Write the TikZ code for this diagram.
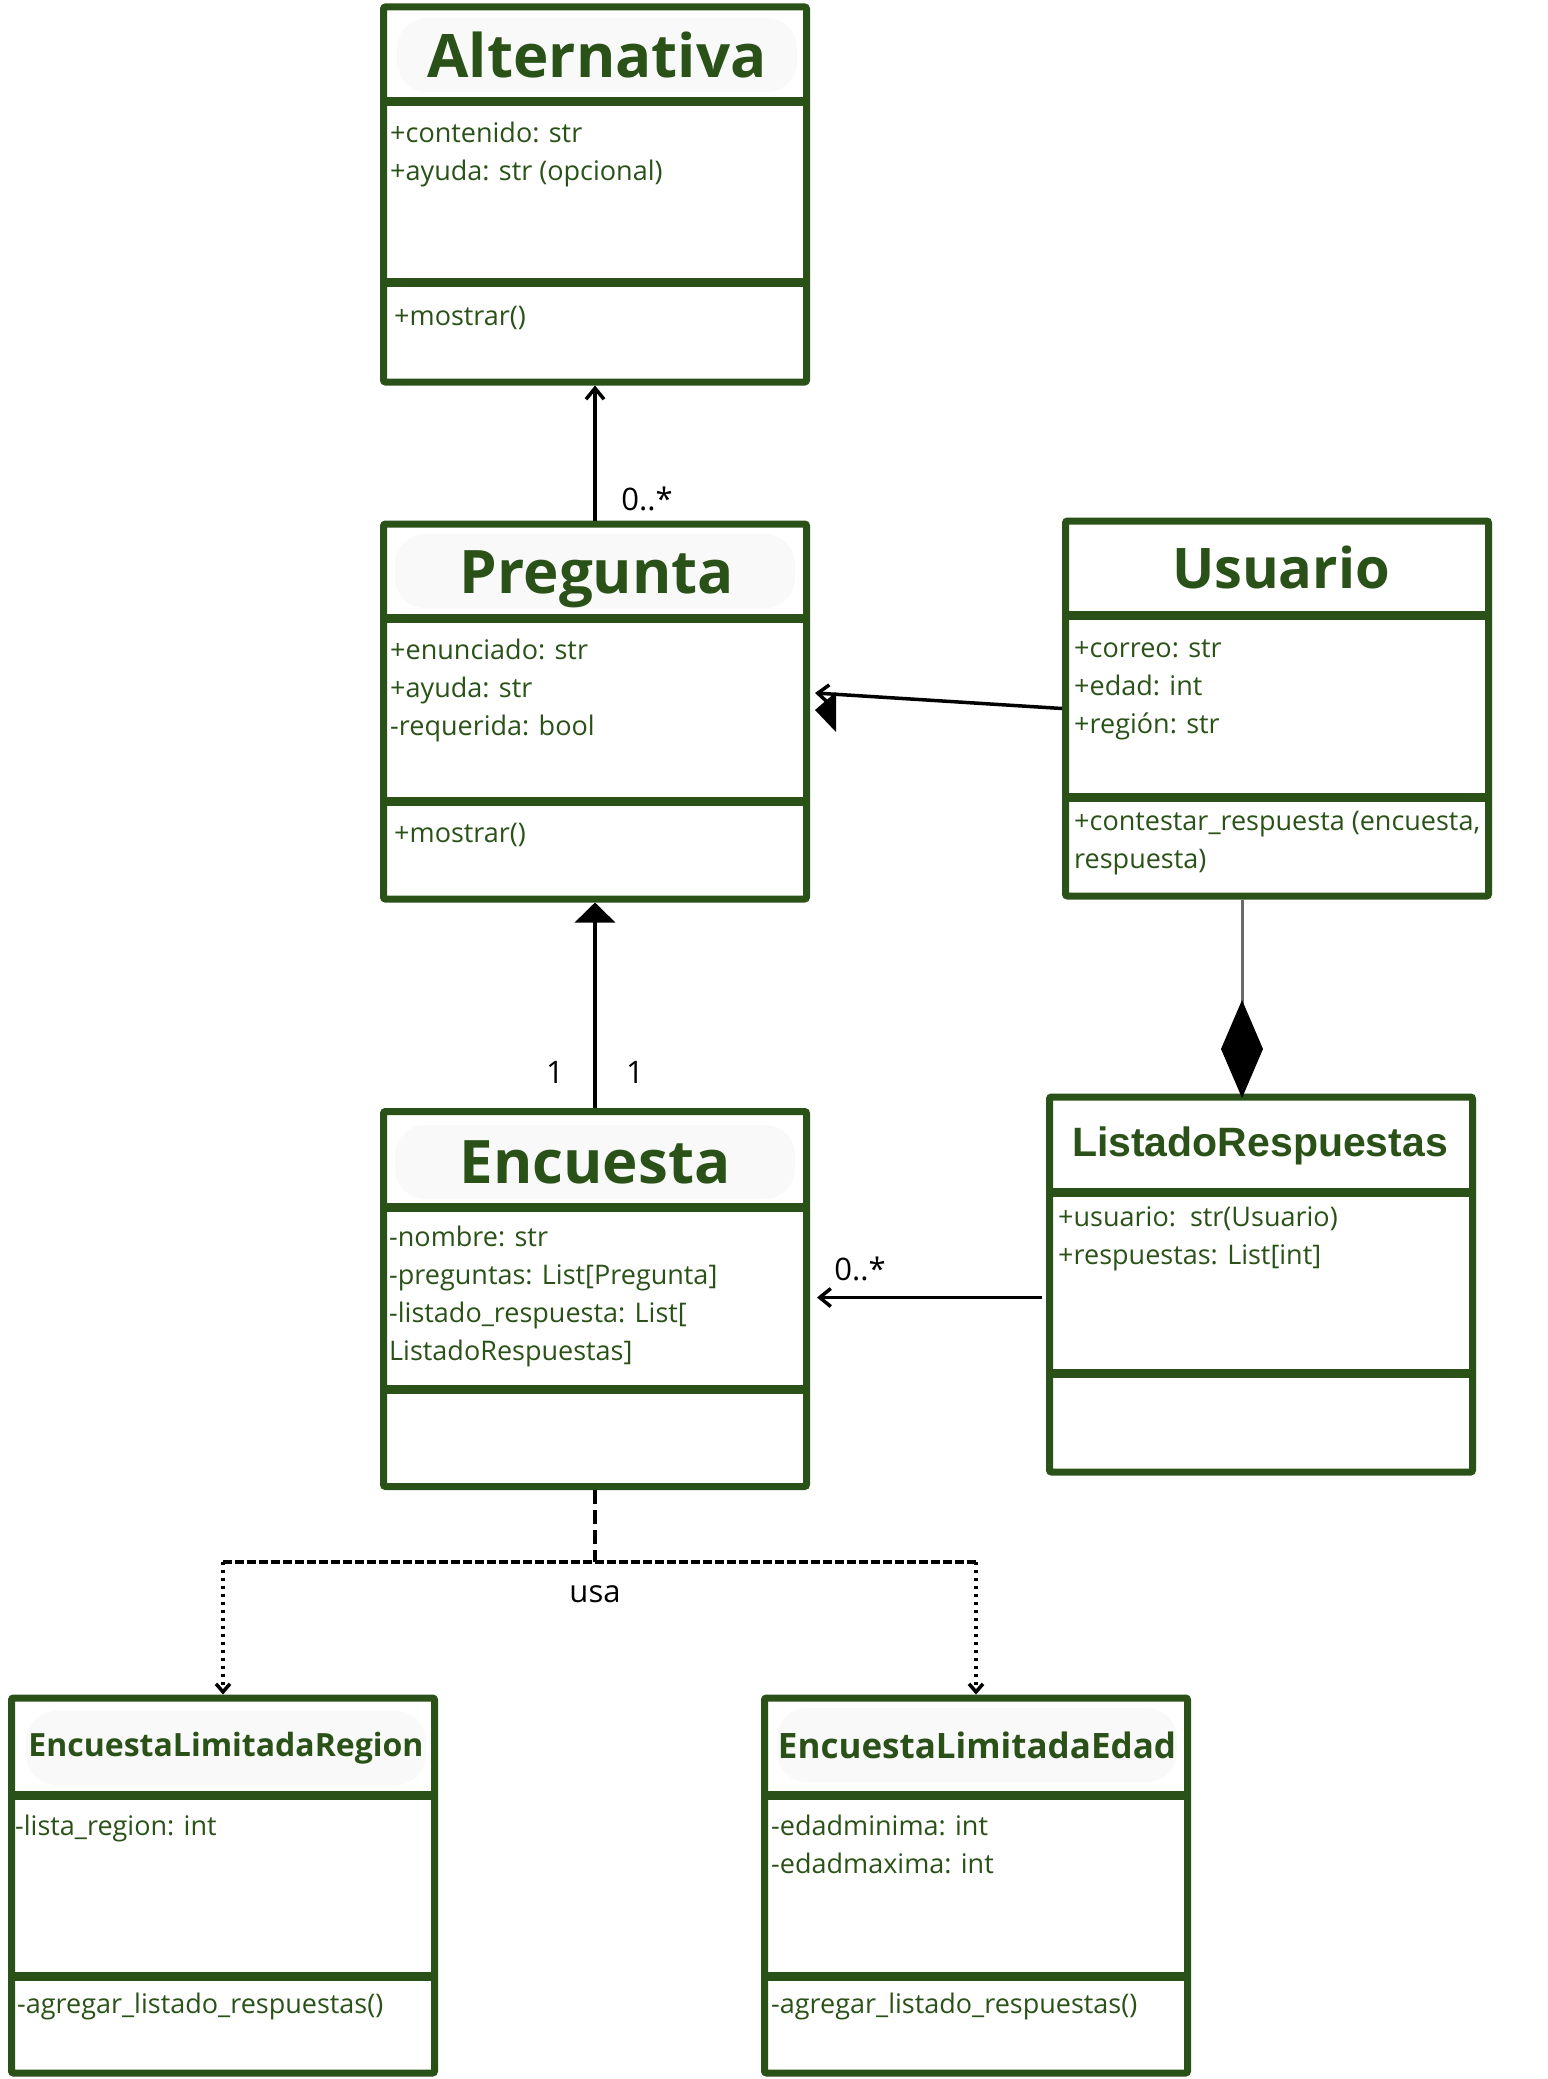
\documentclass[tikz,border=0pt]{standalone}
\usepackage{fontspec}
\setmainfont{Open Sans}
\newfontfamily\arialfont{Liberation Sans}
\usetikzlibrary{arrows.meta,positioning,calc}
\definecolor{umlgreen}{HTML}{2A5218}
\definecolor{titlegray}{HTML}{F9F9F9}
\definecolor{linkgray}{HTML}{6A6A6A}

\begin{document}
\begin{tikzpicture}[x=1pt,y=-1pt,
    classbox/.style={draw=umlgreen, line width=7pt, rounded corners=2pt, minimum width=423pt, minimum height=375pt, inner sep=0pt},
    divider/.style={draw=umlgreen, line width=9pt},
    classtitle/.style={text=umlgreen, font=\bfseries\fontsize{60}{62}\selectfont, inner sep=0pt},
    titlebg/.style={fill=titlegray, rounded corners=30pt, minimum width=400pt, minimum height=74pt},
    attr/.style={text=umlgreen, font=\fontsize{27}{38}\selectfont, anchor=north west, align=left, inner sep=0pt},
    lbl/.style={font=\fontsize{31}{36}\selectfont, inner sep=0pt},
    conn/.style={line width=3.5pt},
    openarrow/.style={-{Straight Barb[length=11pt,width=18pt]}},
    smallarrow/.style={-{Straight Barb[length=8pt,width=14pt]}}
]
\useasboundingbox (0,0) rectangle (1547,2079);

% Alternativa
\node[classbox] (alternativa) at (595,194.5) {};
\draw[divider] (alternativa.west |- 0,102) -- (alternativa.east |- 0,102);
\draw[divider] (alternativa.west |- 0,282) -- (alternativa.east |- 0,282);
\node[classtitle, titlebg] (alternativaT) at (597,55) {Alternativa};
\node[attr] (alternativaA) at (390,122) {+contenido: str\\+ayuda: str (opcional)};
\node[attr] (alternativaM) at (394,306) {+mostrar()};

% Pregunta
\node[classbox] (pregunta) at (595,711.5) {};
\draw[divider] (pregunta.west |- 0,618) -- (pregunta.east |- 0,618);
\draw[divider] (pregunta.west |- 0,801) -- (pregunta.east |- 0,801);
\node[titlebg] (preguntaB) at (595,571) {};
\node[classtitle] (preguntaT) at (597,579) {Pregunta};
\node[attr] (preguntaA) at (390,639) {+enunciado: str\\+ayuda: str\\-requerida: bool};
\node[attr] (preguntaM) at (394,823) {+mostrar()};

% Usuario
\node[classbox] (usuario) at (1277,708.5) {};
\draw[divider] (usuario.west |- 0,615) -- (usuario.east |- 0,615);
\draw[divider] (usuario.west |- 0,797) -- (usuario.east |- 0,797);
\node[classtitle, font=\bfseries\fontsize{56}{58}\selectfont] (usuarioT) at (1281,567) {Usuario};
\node[attr] (usuarioA) at (1074,639) {+correo: str\\+edad: int\\+región: str};
\node[attr] (usuarioM) at (1074,811) {+contestar\_respuesta (encuesta,\\respuesta)};

% Encuesta
\node[classbox] (encuesta) at (595,1299) {};
\draw[divider] (encuesta.west |- 0,1207) -- (encuesta.east |- 0,1207);
\draw[divider] (encuesta.west |- 0,1389) -- (encuesta.east |- 0,1389);
\node[classtitle, titlebg] (encuestaT) at (595,1162) {Encuesta};
\node[attr] (encuestaA) at (389,1226) {-nombre: str\\-preguntas: List[Pregunta]\\-listado\_respuesta: List[\\ListadoRespuestas]};

% ListadoRespuestas
\node[classbox] (listado) at (1261,1284.5) {};
\draw[divider] (listado.west |- 0,1192) -- (listado.east |- 0,1192);
\draw[divider] (listado.west |- 0,1373) -- (listado.east |- 0,1373);
\node[classtitle, font=\arialfont\bfseries\fontsize{41}{44}\selectfont] (listadoT) at (1260,1146) {ListadoRespuestas};
\node[attr] (listadoA) at (1058,1206) {+usuario:\ \ str(Usuario)\\+respuestas: List[int]};

% EncuestaLimitadaRegion
\node[classbox] (region) at (223,1885.5) {};
\draw[divider] (region.west |- 0,1795) -- (region.east |- 0,1795);
\draw[divider] (region.west |- 0,1976) -- (region.east |- 0,1976);
\node[classtitle, titlebg, font=\bfseries\fontsize{32}{36}\selectfont] (regionT) at (226,1748) {EncuestaLimitadaRegion};
\node[attr] (regionA) at (15,1815) {-lista\_region: int};
\node[attr] (regionM) at (17,1993) {-agregar\_listado\_respuestas()};

% EncuestaLimitadaEdad
\node[classbox] (edad) at (976,1885.5) {};
\draw[divider] (edad.west |- 0,1795) -- (edad.east |- 0,1795);
\draw[divider] (edad.west |- 0,1976) -- (edad.east |- 0,1976);
\node[classtitle, titlebg, font=\bfseries\fontsize{35}{38}\selectfont] (edadT) at (977,1745) {EncuestaLimitadaEdad};
\node[attr] (edadA) at (771,1815) {-edadminima: int\\-edadmaxima: int};
\node[attr] (edadM) at (771,1993) {-agregar\_listado\_respuestas()};

% connectors
\draw[conn, openarrow] (pregunta.north) -- (alternativa.south);
\node[lbl] (multA) at (647,499) {0..*};

\coordinate (pregin) at (815,693);
\draw[conn, openarrow] (usuario.west) -- (pregin);
\fill (815,710) -- (836,692) -- (836,732) -- cycle;

\draw[conn, -{Triangle[length=20pt,width=40pt]}] (encuesta.north) -- (pregunta.south);
\node[lbl] (oneL) at (555,1072) {1};
\node[lbl] (oneR) at (635,1072) {1};

\coordinate (lrstart) at ([yshift=-13pt]listado.west);
\draw[conn, openarrow, shorten <=4pt, shorten >=7pt] (lrstart) -- (lrstart -| encuesta.east);
\node[lbl] (multB) at (860,1269) {0..*};

\coordinate (compend) at (1242,1098);
\draw[line width=3pt, linkgray, -{Diamond[length=98pt,width=42pt,color=black,fill=black]}] (compend |- usuario.south) -- (compend);

\coordinate (split) at (encuesta.south |- 0,1562);
\draw[conn, dash pattern=on 14pt off 6pt] (encuesta.south) -- (split);
\draw[conn, dash pattern=on 9pt off 3pt] (region.north |- split) -- (edad.north |- split);
\draw[conn, dash pattern=on 3pt off 5pt, smallarrow] (region.north |- split) -- (region.north);
\draw[conn, dash pattern=on 3pt off 5pt, smallarrow] (edad.north |- split) -- (edad.north);
\node[lbl] (usa) at (595,1594) {usa};
\end{tikzpicture}
\end{document}
